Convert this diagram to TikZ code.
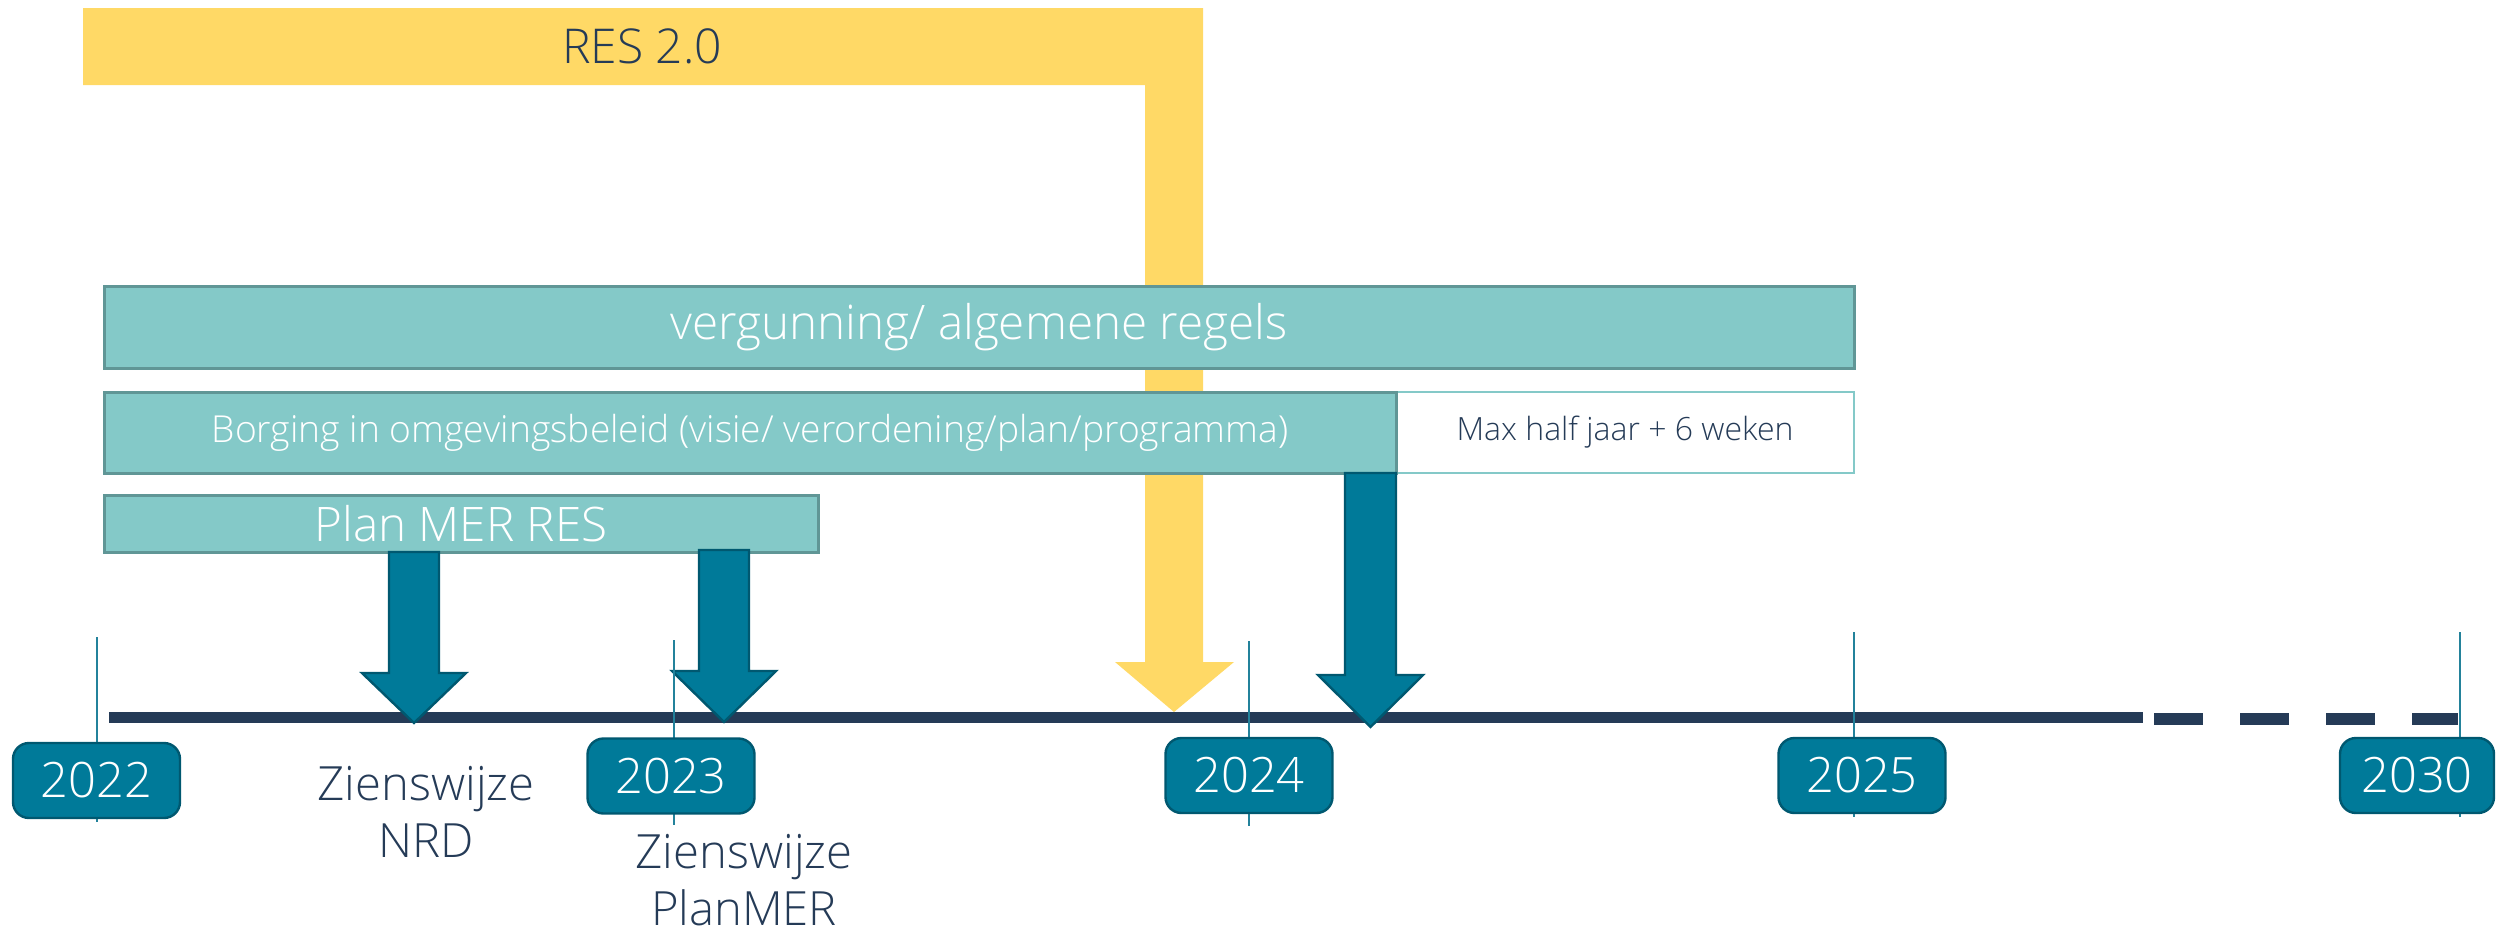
\documentclass[tikz,border=0pt]{standalone}
\usepackage{fontspec}
\setmainfont{Open Sans Light}

\definecolor{resyellow}{RGB}{255,217,102}
\definecolor{boxteal}{RGB}{132,201,200}
\definecolor{boxedge}{RGB}{96,150,150}
\definecolor{arrowteal}{RGB}{0,122,153}
\definecolor{arrowedge}{RGB}{0,88,112}
\definecolor{linenavy}{RGB}{37,59,87}
\definecolor{tickteal}{RGB}{35,130,155}

\tikzset{every picture/.style={line width=0.75pt}}

\begin{document}
\begin{tikzpicture}[x=0.25pt,y=0.25pt,yscale=-1,xscale=1,
    tealbox/.style={draw=boxedge, fill=boxteal, line width=0.75pt, inner sep=0pt, text=white},
    yearbox/.style={draw=arrowedge, fill=arrowteal, rounded corners=4pt, line width=0.6pt, inner sep=0pt, minimum width=41.75pt, minimum height=18.75pt, text=white, font=\fontsize{12.2}{14}\selectfont},
    yearline/.style={draw=tickteal, line width=0.35pt},
    blockarrow/.style={draw=arrowedge, fill=arrowteal, line width=0.6pt},
    notetext/.style={text=linenavy, align=center, inner sep=0pt, font=\fontsize{11.8}{14.25}\selectfont}]
        \useasboundingbox (0,0) rectangle (2496,932);

        %Shape: Polygon [RES 2.0 bar]
        \fill [resyellow] (83,8) -- (1203,8) -- (1203,662) -- (1234,662) -- (1174,712) -- (1115,662) -- (1145,662) -- (1145,85) -- (83,85) -- cycle ;
        % Text Node
        \node [text=linenavy, font=\fontsize{12}{15}\selectfont] (res) at (642,46) {RES 2.0};

        %Shape: Rectangle
        \node [tealbox, minimum width=437.5pt, minimum height=20.5pt, font=\fontsize{11.9}{14}\selectfont] (vergunning) at (979,327) {vergunning/ algemene regels};
        %Shape: Rectangle
        \node [draw=boxteal, fill=white, line width=0.6pt, inner sep=0pt, minimum width=114.5pt, minimum height=20.25pt, text=linenavy, font=\fontsize{8}{9}\selectfont] (termijn) at (1625,432.5) {Max half jaar + 6 weken};
        %Shape: Rectangle
        \node [tealbox, minimum width=323pt, minimum height=20.25pt, font=\fontsize{9.3}{10}\selectfont] (borging) at (750,432.5) {Borging in omgevingsbeleid (visie/ verordening/plan/programma)};
        %Shape: Rectangle
        \node [tealbox, minimum width=178.5pt, minimum height=14.25pt, font=\fontsize{11.9}{14}\selectfont] (planmer) at (461,523.5) {Plan MER RES};

        %Straight Lines [timeline]
        \draw [linenavy, line width=2.75pt] (109,717.5) -- (2143,717.5) ;
        \draw [linenavy, line width=3pt, dash pattern=on 12.25pt off 9.25pt] (2154,719) -- (2458,719) ;

        %Shape: Arrow [NRD]
        \draw [blockarrow] (389,552) -- (439,552) -- (439,673) -- (466,673) -- (414,723) -- (362,673) -- (389,673) -- cycle ;
        %Shape: Arrow [PlanMER]
        \draw [blockarrow] (699,550) -- (749,550) -- (749,671) -- (776,671) -- (724,722) -- (672,671) -- (699,671) -- cycle ;
        %Shape: Arrow [Borging]
        \draw [blockarrow] (1345,473) -- (1396,473) -- (1396,675) -- (1423,675) -- (1370.5,727) -- (1318,675) -- (1345,675) -- cycle ;

        %Straight Lines [year ticks]
        \draw [yearline] (97,637) -- (97,822) ;
        \draw [yearline] (674,640) -- (674,825) ;
        \draw [yearline] (1249,641) -- (1249,826) ;
        \draw [yearline] (1854,632) -- (1854,817) ;
        \draw [yearline] (2460,632) -- (2460,817) ;

        %Rounded Rect [years]
        \node [yearbox] (y2022) at (96.5,780.5) {2022};
        \node [yearbox] (y2023) at (671,776) {2023};
        \node [yearbox] (y2024) at (1249,775.5) {2024};
        \node [yearbox] (y2025) at (1862,775.5) {2025};
        \node [yearbox, minimum width=38.5pt] (y2030) at (2417,775.5) {2030};

        % Text Node
        \node [notetext, anchor=north] (nrd) at (426,765) {Zienswijze\\NRD};
        % Text Node
        \node [notetext, anchor=north] (planmerview) at (744,833) {Zienswijze\\PlanMER};

    \end{tikzpicture}
\end{document}
